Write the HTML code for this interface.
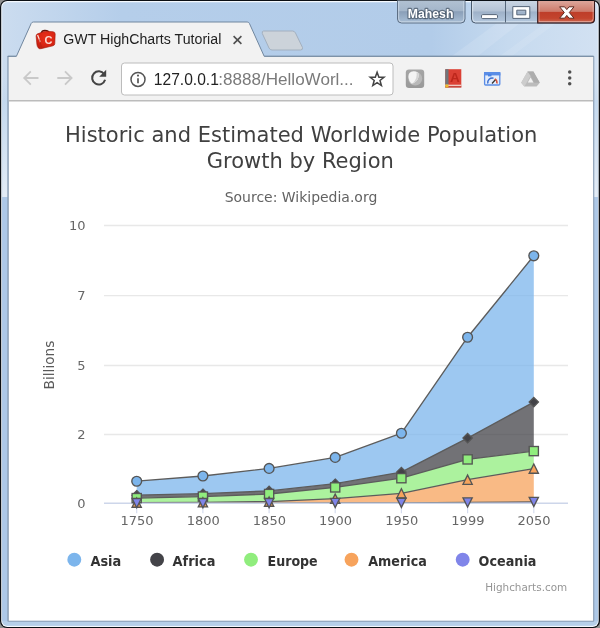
<!DOCTYPE html>
<html><head><meta charset="utf-8"><title>GWT HighCharts Tutorial</title>
<style>
html,body{margin:0;padding:0;width:600px;height:628px;overflow:hidden;background:#b9d1ea;}
svg{display:block}
</style></head><body>
<svg width="600" height="628" viewBox="0 0 600 628">
<defs>
<linearGradient id="frame" x1="0" y1="0" x2="1" y2="0"><stop offset="0" stop-color="#cbdcef"/><stop offset="0.2" stop-color="#b5ceea"/><stop offset="0.72" stop-color="#b2cce9"/><stop offset="0.85" stop-color="#c6daef"/><stop offset="1" stop-color="#d2e1f2"/></linearGradient>
<linearGradient id="side" x1="0" y1="0" x2="0" y2="1"><stop offset="0" stop-color="#b9d1ea" stop-opacity="0"/><stop offset="0.12" stop-color="#b9d1ea" stop-opacity="0"/><stop offset="0.25" stop-color="#b9d1ea" stop-opacity="1"/><stop offset="1" stop-color="#b6cfe9" stop-opacity="1"/></linearGradient>
<linearGradient id="usr" x1="0" y1="0" x2="0" y2="1"><stop offset="0" stop-color="#b1c1d2"/><stop offset="0.45" stop-color="#a4b6ca"/><stop offset="0.5" stop-color="#8a9fb8"/><stop offset="1" stop-color="#a9bfd6"/></linearGradient>
<linearGradient id="btn" x1="0" y1="0" x2="0" y2="1"><stop offset="0" stop-color="#c9d5e3"/><stop offset="0.45" stop-color="#b4c3d5"/><stop offset="0.5" stop-color="#9eb1c8"/><stop offset="1" stop-color="#b5c9df"/></linearGradient>
<linearGradient id="cls" x1="0" y1="0" x2="0" y2="1"><stop offset="0" stop-color="#dca69b"/><stop offset="0.48" stop-color="#cd7b6b"/><stop offset="0.53" stop-color="#be3e29"/><stop offset="0.8" stop-color="#c3442d"/><stop offset="1" stop-color="#cd6a53"/></linearGradient>
<linearGradient id="ext1" x1="0" y1="0" x2="0" y2="1"><stop offset="0" stop-color="#a6a6a6"/><stop offset="1" stop-color="#999"/></linearGradient>
<radialGradient id="favg" cx="0.55" cy="0.35" r="0.75"><stop offset="0" stop-color="#e8301a"/><stop offset="0.6" stop-color="#d92513"/><stop offset="1" stop-color="#b81c0e"/></radialGradient>
<linearGradient id="sidehl" x1="0" y1="0" x2="0" y2="1"><stop offset="0" stop-color="#c3d8ee"/><stop offset="1" stop-color="#e3ecf6"/></linearGradient>
</defs>
<!-- window frame -->
<rect x="0" y="0" width="600" height="628" fill="#909090"/>
<rect x="0" y="0" width="600" height="628" rx="7" fill="#0b0f14"/>
<rect x="1.2" y="1.1" width="597.5" height="625.8" rx="6" fill="#f4f9fe"/>
<rect x="2.2" y="2.2" width="595.6" height="623.6" rx="5" fill="url(#frame)"/>
<rect x="2.2" y="2.2" width="595.6" height="623.6" rx="5" fill="url(#side)"/>
<path d="M452 56 L497 23 H520 L478 56Z" fill="#fff" fill-opacity="0.12"/><path d="M500 56 L545 23 H556 L512 56Z" fill="#fff" fill-opacity="0.1"/>
<rect x="2.2" y="100" width="6" height="97" fill="url(#sidehl)"/><rect x="593" y="100" width="4.8" height="97" fill="url(#sidehl)"/>
<rect x="2.2" y="197" width="6" height="424" fill="#adc8e7"/><rect x="593" y="197" width="4.8" height="424" fill="#adc8e7"/>
<!-- content -->
<rect x="7.3" y="55.8" width="587" height="566" rx="1" fill="#8a9eb5"/>
<rect x="8.8" y="56.8" width="584.3" height="563.9" fill="#fff"/>
<rect x="8.8" y="56.8" width="584.3" height="43.4" fill="#f2f2f2"/>
<path d="M8.8 100.7H593.1" stroke="#bcbcbc" stroke-width="1.5"/>
<!-- new tab button -->
<path d="M263.5 31 H292.5 Q294.5 31 295.5 33 L302.5 47.5 Q303 50 300.5 50 H272 Q270 50 269 48 L262.3 33.5 Q261.8 31 263.5 31Z" fill="#ccd3da" stroke="#a3b0bf" stroke-width="1"/>
<!-- tab -->
<path d="M16.3 56.6 L31.2 23.4 Q31.9 22 33.4 22 H247.2 Q248.7 22 249.4 23.4 L264.3 56.6 V59 H16.3Z" fill="#f2f2f2"/>
<path d="M7.6 56.3 H16.4 L31.2 23.4 Q31.9 22 33.4 22 H247.2 Q248.7 22 249.4 23.4 L264.2 56.3 H593.4" fill="none" stroke="#71879f" stroke-width="1" stroke-linejoin="round"/>
<!-- favicon -->
<g>
<path d="M41.3 33.2 Q41.8 30.3 45 30.4 Q48.6 30.5 48.8 32.6" fill="none" stroke="#5e1209" stroke-width="1.5"/>
<path d="M36.1 36.2 Q36 34.4 37.6 33.8 L44.2 31.6 Q45.4 31.2 46.8 31.3 L53 31.7 Q55.2 31.9 55.2 34 L54.8 43.6 Q54.7 45.3 53 45.8 L41 48.7 Q39.3 49.1 38.3 47.9 Q37.1 46.6 36.9 44.6 Z" fill="url(#favg)" stroke="#a51a0c" stroke-width="0.6"/>
<path d="M37 35.2 L38.2 34.7 L40.6 41.6 L39.9 42.4Z" fill="#fbe3dc"/>
<path d="M39.2 39 L41.6 47.6" stroke="#a81b0e" stroke-width="0.8" stroke-opacity="0.6"/>
<text x="44.4" y="43.6" font-family="Liberation Sans, sans-serif" font-weight="bold" font-size="11" fill="#fbd9d2">C</text>
</g>
<text x="63.3" y="44.3" font-family="Liberation Sans, sans-serif" font-size="15.1" fill="#222" textLength="158" lengthAdjust="spacingAndGlyphs">GWT HighCharts Tutorial</text>
<path d="M233.6 36.1 L241.4 43.9 M241.4 36.1 L233.6 43.9" stroke="#505050" stroke-width="1.6"/>
<!-- user button -->
<path d="M397.5 0.5 V19 Q397.5 23 401.5 23 H461 Q465 23 465 19 V0.5" fill="url(#usr)" stroke="#5d6f84" stroke-width="1"/>
<path d="M398.7 1 V18.8 Q398.7 21.8 401.7 21.8 H460.8 Q463.8 21.8 463.8 18.8 V1" fill="none" stroke="#cfdbe8" stroke-width="1" stroke-opacity="0.8"/>
<text x="430.6" y="18.2" text-anchor="middle" font-family="Liberation Sans, sans-serif" font-weight="bold" font-size="12.6" fill="#fff" stroke="#2c3947" stroke-width="2.4" stroke-opacity="0.55" stroke-linejoin="round" paint-order="stroke" textLength="45.5" lengthAdjust="spacingAndGlyphs">Mahesh</text>
<!-- window buttons -->
<path d="M471.5 1 V19 Q471.5 23 475.5 23 H590.5 Q594.5 23 594.5 19 V1" fill="url(#btn)" stroke="#4a596b" stroke-width="1"/>
<path d="M537.7 1 V22.6 H590.5 Q594.2 22.6 594.2 19 V1Z" fill="url(#cls)"/>
<path d="M472.7 1.6 V18.8 Q472.7 21.8 475.7 21.8 H537" fill="none" stroke="#f1f6fc" stroke-width="1" stroke-opacity="0.6"/>
<path d="M538.9 1.6 V21.6 H590 Q593.2 21.6 593.2 18.6 V1.6" fill="none" stroke="#f6d9d2" stroke-width="1" stroke-opacity="0.55"/>
<path d="M505.5 1V22.5" stroke="#55667a" stroke-width="1"/>
<path d="M537.7 1 V23 H590.5 Q594.5 23 594.5 19 V1" fill="none" stroke="#35171a" stroke-width="1.1"/>
<rect x="481.5" y="14.6" width="16" height="4" rx="1.2" fill="#fff" stroke="#566579" stroke-width="1"/>
<path d="M512.8 6.6 H529.8 V18.4 H512.8Z M516.8 10.2 V14.8 H525.8 V10.2Z" fill="#fff" fill-rule="evenodd" stroke="#566579" stroke-width="1"/>
<path d="M559.6 6.8 H564.6 L566.8 9.6 L569 6.8 H574 L569.3 12.5 L574 18.2 H569 L566.8 15.4 L564.6 18.2 H559.6 L564.3 12.5Z" fill="#fff" stroke="#5f2a20" stroke-width="1" stroke-linejoin="round"/>
<!-- toolbar: back/forward/reload -->
<g fill="none" stroke="#c9c9c9" stroke-width="1.8">
<path d="M38.5 78H24.5 M30.8 71.3 L24.2 78 L30.8 84.7"/>
<path d="M57.3 78H71.3 M65 71.3 L71.6 78 L65 84.7"/>
</g>
<path d="M104.2 74.2 A6.6 6.6 0 1 0 105.1 79.8" fill="none" stroke="#444" stroke-width="2"/>
<path d="M106.2 69.8 V76.8 H99.2Z" fill="#444"/>
<!-- address box -->
<rect x="121.5" y="63" width="271.5" height="32" rx="3" fill="#fff" stroke="#bcbcbc" stroke-width="1"/>
<circle cx="138" cy="79.4" r="7" fill="none" stroke="#555" stroke-width="1.5"/>
<path d="M138 78.3V83.3" stroke="#555" stroke-width="1.7"/><circle cx="138" cy="75.6" r="1.05" fill="#555"/>
<text x="153.8" y="84.9" font-family="Liberation Sans, sans-serif" font-size="17.4" fill="#222" textLength="65" lengthAdjust="spacingAndGlyphs">127.0.0.1</text>
<text x="218.3" y="84.9" font-family="Liberation Sans, sans-serif" font-size="17.4" fill="#7a7a7a" textLength="135.3" lengthAdjust="spacingAndGlyphs">:8888/HelloWorl...</text>
<path d="M377.1 72.3 L378.9 77.2 L384.0 77.3 L380.0 80.5 L381.4 85.5 L377.1 82.6 L372.8 85.5 L374.2 80.5 L370.2 77.3 L375.3 77.2Z" fill="none" stroke="#444" stroke-width="1.5" stroke-linejoin="miter"/>
<!-- ext icons -->
<rect x="405.8" y="69.4" width="18.4" height="18.6" rx="3.2" fill="url(#ext1)"/>
<circle cx="415.2" cy="78.6" r="7" fill="#b9b9b9"/>
<path d="M408.4 77 Q408 72 413.5 71.3 Q418.5 71.4 418.8 75 Q418.6 79.5 414.6 82.6 Q412.6 84.1 411.3 83.4 Q408.8 81 408.4 77Z" fill="#f4f4f4"/>
<path d="M416.5 72.2 Q418.7 73 418.8 75 Q418.6 79.5 414.6 82.6 Q413.4 83.5 412.4 83.7 Q417.8 78.5 416.5 72.2Z" fill="#d4d4d4"/>
<g>
<rect x="445.3" y="69.2" width="16" height="18.2" fill="#db4034"/>
<rect x="445.3" y="69.2" width="3.2" height="18.2" fill="#70757a"/>
<rect x="445.3" y="84.7" width="16" height="1.7" fill="#efc9c3"/>
<rect x="445.3" y="86.3" width="16" height="1.1" fill="#b9352b"/>
<path d="M445.3 84.5 h3.2 v3 h-3.2z" fill="#f0b92c"/>
<text x="454.9" y="82.2" text-anchor="middle" font-family="Liberation Sans, sans-serif" font-weight="bold" font-size="13.5" fill="#bd271c">A</text>
</g>
<g>
<rect x="484.6" y="72.6" width="15.2" height="12.4" rx="1" fill="#e4edfb" stroke="#5a8de6" stroke-width="1.3"/>
<rect x="484" y="72" width="16.4" height="3.4" fill="#5a8de6"/>
<path d="M488 75.2 H491.5" stroke="#4a83e4" stroke-width="2.4"/>
<path d="M487.8 83.5 A4.6 4.6 0 0 1 493.5 78.2" fill="none" stroke="#3b6fd0" stroke-width="1.5"/>
<path d="M494.8 78.8 A4.6 4.6 0 0 1 496.9 83.5" fill="none" stroke="#d0503a" stroke-width="1.5"/>
<path d="M492 83.5 L495.2 80" stroke="#333" stroke-width="1.2"/>
</g>
<g>
<path d="M527.6 71.4 H533.4 L539.8 82.8 L536.6 86.4 H524.4 L521.2 82.8Z" fill="#bcbcbc"/>
<path d="M527.6 71.4 L521.2 82.8 L524.4 86.4 L530.6 75.8Z" fill="#cdcdcd"/>
<path d="M533.4 71.4 L539.8 82.8 H534 L530.6 75.8 L527.6 71.4Z" fill="#adadad"/>
<path d="M530.6 77.6 L533.4 82.6 H527.8Z" fill="#f2f2f2"/>
</g>
<circle cx="569.7" cy="72" r="1.75" fill="#505050"/><circle cx="569.7" cy="77.9" r="1.75" fill="#505050"/><circle cx="569.7" cy="83.8" r="1.75" fill="#505050"/>

<g id="chart">
<path d="M104.0 434.50H568.0" stroke="#e8e8e8" stroke-width="1.3"/>
<path d="M104.0 365.50H568.0" stroke="#e8e8e8" stroke-width="1.3"/>
<path d="M104.0 295.60H568.0" stroke="#e8e8e8" stroke-width="1.3"/>
<path d="M104.0 225.50H568.0" stroke="#e8e8e8" stroke-width="1.3"/>
<path d="M136.7 481.2 L202.9 476.0 L269.1 468.4 L335.2 457.4 L401.4 433.2 L467.6 337.2 L533.8 255.8 L533.8 402.1 L467.6 438.1 L401.4 472.1 L335.2 483.7 L269.1 490.9 L202.9 493.7 L136.7 495.2 Z" fill="#7cb5ec" fill-opacity="0.75"/>
<path d="M136.7 481.2 L202.9 476.0 L269.1 468.4 L335.2 457.4 L401.4 433.2 L467.6 337.2 L533.8 255.8" fill="none" stroke="#5c5c5c" stroke-width="1.35" stroke-linejoin="round"/>
<path d="M136.7 495.2 L202.9 493.7 L269.1 490.9 L335.2 483.7 L401.4 472.1 L467.6 438.1 L533.8 402.1 L533.8 451.1 L467.6 459.4 L401.4 478.2 L335.2 487.4 L269.1 494.0 L202.9 496.6 L136.7 498.1 Z" fill="#434348" fill-opacity="0.75"/>
<path d="M136.7 495.2 L202.9 493.7 L269.1 490.9 L335.2 483.7 L401.4 472.1 L467.6 438.1 L533.8 402.1" fill="none" stroke="#5c5c5c" stroke-width="1.35" stroke-linejoin="round"/>
<path d="M136.7 498.1 L202.9 496.6 L269.1 494.0 L335.2 487.4 L401.4 478.2 L467.6 459.4 L533.8 451.1 L533.8 468.6 L467.6 479.7 L401.4 493.4 L335.2 498.7 L269.1 501.6 L202.9 502.3 L136.7 502.6 Z" fill="#90ed7d" fill-opacity="0.75"/>
<path d="M136.7 498.1 L202.9 496.6 L269.1 494.0 L335.2 487.4 L401.4 478.2 L467.6 459.4 L533.8 451.1" fill="none" stroke="#5c5c5c" stroke-width="1.35" stroke-linejoin="round"/>
<path d="M136.7 502.6 L202.9 502.3 L269.1 501.6 L335.2 498.7 L401.4 493.4 L467.6 479.7 L533.8 468.6 L533.8 501.9 L467.6 502.4 L401.4 502.8 L335.2 503.0 L269.1 503.1 L202.9 503.1 L136.7 503.1 Z" fill="#f7a35c" fill-opacity="0.75"/>
<path d="M136.7 502.6 L202.9 502.3 L269.1 501.6 L335.2 498.7 L401.4 493.4 L467.6 479.7 L533.8 468.6" fill="none" stroke="#5c5c5c" stroke-width="1.35" stroke-linejoin="round"/>
<path d="M136.7 503.1 L202.9 503.1 L269.1 503.1 L335.2 503.0 L401.4 502.8 L467.6 502.4 L533.8 501.9 L533.8 503.2 L467.6 503.2 L401.4 503.2 L335.2 503.2 L269.1 503.2 L202.9 503.2 L136.7 503.2 Z" fill="#8085e9" fill-opacity="0.75"/>
<path d="M136.7 503.1 L202.9 503.1 L269.1 503.1 L335.2 503.0 L401.4 502.8 L467.6 502.4 L533.8 501.9" fill="none" stroke="#5c5c5c" stroke-width="1.35" stroke-linejoin="round"/>
<path d="M104.0 503.2H568.0" stroke="#cdd6ea" stroke-width="1.5"/>
<path d="M136.7 503.2V513.2" stroke="#d5dcee" stroke-width="1.2"/>
<path d="M202.9 503.2V513.2" stroke="#d5dcee" stroke-width="1.2"/>
<path d="M269.1 503.2V513.2" stroke="#d5dcee" stroke-width="1.2"/>
<path d="M335.2 503.2V513.2" stroke="#d5dcee" stroke-width="1.2"/>
<path d="M401.4 503.2V513.2" stroke="#d5dcee" stroke-width="1.2"/>
<path d="M467.6 503.2V513.2" stroke="#d5dcee" stroke-width="1.2"/>
<path d="M533.8 503.2V513.2" stroke="#d5dcee" stroke-width="1.2"/>
<circle cx="136.7" cy="481.2" r="4.9" fill="#7cb5ec" stroke="#555" stroke-width="1.35"/>
<circle cx="202.9" cy="476.0" r="4.9" fill="#7cb5ec" stroke="#555" stroke-width="1.35"/>
<circle cx="269.1" cy="468.4" r="4.9" fill="#7cb5ec" stroke="#555" stroke-width="1.35"/>
<circle cx="335.2" cy="457.4" r="4.9" fill="#7cb5ec" stroke="#555" stroke-width="1.35"/>
<circle cx="401.4" cy="433.2" r="4.9" fill="#7cb5ec" stroke="#555" stroke-width="1.35"/>
<circle cx="467.6" cy="337.2" r="4.9" fill="#7cb5ec" stroke="#555" stroke-width="1.35"/>
<circle cx="533.8" cy="255.8" r="4.9" fill="#7cb5ec" stroke="#555" stroke-width="1.35"/>
<path d="M136.7 490.6L141.3 495.2L136.7 499.8L132.1 495.2Z" fill="#434348" stroke="#555" stroke-width="1.35"/>
<path d="M202.9 489.1L207.5 493.7L202.9 498.3L198.3 493.7Z" fill="#434348" stroke="#555" stroke-width="1.35"/>
<path d="M269.1 486.3L273.7 490.9L269.1 495.5L264.5 490.9Z" fill="#434348" stroke="#555" stroke-width="1.35"/>
<path d="M335.2 479.1L339.8 483.7L335.2 488.3L330.6 483.7Z" fill="#434348" stroke="#555" stroke-width="1.35"/>
<path d="M401.4 467.5L406.0 472.1L401.4 476.7L396.8 472.1Z" fill="#434348" stroke="#555" stroke-width="1.35"/>
<path d="M467.6 433.5L472.2 438.1L467.6 442.7L463.0 438.1Z" fill="#434348" stroke="#555" stroke-width="1.35"/>
<path d="M533.8 397.5L538.4 402.1L533.8 406.7L529.2 402.1Z" fill="#434348" stroke="#555" stroke-width="1.35"/>
<rect x="132.1" y="493.5" width="9.2" height="9.2" fill="#90ed7d" stroke="#555" stroke-width="1.35"/>
<rect x="198.3" y="492.0" width="9.2" height="9.2" fill="#90ed7d" stroke="#555" stroke-width="1.35"/>
<rect x="264.5" y="489.4" width="9.2" height="9.2" fill="#90ed7d" stroke="#555" stroke-width="1.35"/>
<rect x="330.6" y="482.8" width="9.2" height="9.2" fill="#90ed7d" stroke="#555" stroke-width="1.35"/>
<rect x="396.8" y="473.6" width="9.2" height="9.2" fill="#90ed7d" stroke="#555" stroke-width="1.35"/>
<rect x="463.0" y="454.8" width="9.2" height="9.2" fill="#90ed7d" stroke="#555" stroke-width="1.35"/>
<rect x="529.2" y="446.5" width="9.2" height="9.2" fill="#90ed7d" stroke="#555" stroke-width="1.35"/>
<path d="M136.7 498.0L141.3 507.2L132.1 507.2Z" fill="#f7a35c" stroke="#555" stroke-width="1.35"/>
<path d="M202.9 497.7L207.5 506.9L198.3 506.9Z" fill="#f7a35c" stroke="#555" stroke-width="1.35"/>
<path d="M269.1 497.0L273.7 506.2L264.5 506.2Z" fill="#f7a35c" stroke="#555" stroke-width="1.35"/>
<path d="M335.2 494.1L339.8 503.3L330.6 503.3Z" fill="#f7a35c" stroke="#555" stroke-width="1.35"/>
<path d="M401.4 488.8L406.0 498.0L396.8 498.0Z" fill="#f7a35c" stroke="#555" stroke-width="1.35"/>
<path d="M467.6 475.1L472.2 484.3L463.0 484.3Z" fill="#f7a35c" stroke="#555" stroke-width="1.35"/>
<path d="M533.8 464.0L538.4 473.2L529.2 473.2Z" fill="#f7a35c" stroke="#555" stroke-width="1.35"/>
<path d="M132.1 498.5L141.3 498.5L136.7 507.7Z" fill="#8085e9" stroke="#555" stroke-width="1.35"/>
<path d="M198.3 498.5L207.5 498.5L202.9 507.7Z" fill="#8085e9" stroke="#555" stroke-width="1.35"/>
<path d="M264.5 498.5L273.7 498.5L269.1 507.7Z" fill="#8085e9" stroke="#555" stroke-width="1.35"/>
<path d="M330.6 498.4L339.8 498.4L335.2 507.6Z" fill="#8085e9" stroke="#555" stroke-width="1.35"/>
<path d="M396.8 498.2L406.0 498.2L401.4 507.4Z" fill="#8085e9" stroke="#555" stroke-width="1.35"/>
<path d="M463.0 497.8L472.2 497.8L467.6 507.0Z" fill="#8085e9" stroke="#555" stroke-width="1.35"/>
<path d="M529.2 497.3L538.4 497.3L533.8 506.5Z" fill="#8085e9" stroke="#555" stroke-width="1.35"/>
<text x="137.0" y="525.4" text-anchor="middle" font-size="13" fill="#666" font-family="DejaVu Sans, Liberation Sans, sans-serif">1750</text>
<text x="203.2" y="525.4" text-anchor="middle" font-size="13" fill="#666" font-family="DejaVu Sans, Liberation Sans, sans-serif">1800</text>
<text x="269.4" y="525.4" text-anchor="middle" font-size="13" fill="#666" font-family="DejaVu Sans, Liberation Sans, sans-serif">1850</text>
<text x="335.5" y="525.4" text-anchor="middle" font-size="13" fill="#666" font-family="DejaVu Sans, Liberation Sans, sans-serif">1900</text>
<text x="401.7" y="525.4" text-anchor="middle" font-size="13" fill="#666" font-family="DejaVu Sans, Liberation Sans, sans-serif">1950</text>
<text x="467.9" y="525.4" text-anchor="middle" font-size="13" fill="#666" font-family="DejaVu Sans, Liberation Sans, sans-serif">1999</text>
<text x="534.1" y="525.4" text-anchor="middle" font-size="13" fill="#666" font-family="DejaVu Sans, Liberation Sans, sans-serif">2050</text>
<text x="85.6" y="507.7" text-anchor="end" font-size="13" fill="#666" font-family="DejaVu Sans, Liberation Sans, sans-serif">0</text>
<text x="85.6" y="439.1" text-anchor="end" font-size="13" fill="#666" font-family="DejaVu Sans, Liberation Sans, sans-serif">2</text>
<text x="85.6" y="370.1" text-anchor="end" font-size="13" fill="#666" font-family="DejaVu Sans, Liberation Sans, sans-serif">5</text>
<text x="85.6" y="300.2" text-anchor="end" font-size="13" fill="#666" font-family="DejaVu Sans, Liberation Sans, sans-serif">7</text>
<text x="85.6" y="230.1" text-anchor="end" font-size="13" fill="#666" font-family="DejaVu Sans, Liberation Sans, sans-serif">10</text>
<text x="54.1" y="365" text-anchor="middle" font-size="13.7" fill="#5a5a5a" transform="rotate(-90 54.1 365)" font-family="DejaVu Sans, Liberation Sans, sans-serif">Billions</text>
<text x="301.2" y="142.3" text-anchor="middle" font-size="21" fill="#404040" textLength="472.4" lengthAdjust="spacingAndGlyphs" font-family="DejaVu Sans, Liberation Sans, sans-serif">Historic and Estimated Worldwide Population</text>
<text x="300.3" y="167.6" text-anchor="middle" font-size="21" fill="#404040" textLength="187" lengthAdjust="spacingAndGlyphs" font-family="DejaVu Sans, Liberation Sans, sans-serif">Growth by Region</text>
<text x="301" y="201.8" text-anchor="middle" font-size="14.6" fill="#626262" textLength="152.6" lengthAdjust="spacingAndGlyphs" font-family="DejaVu Sans, Liberation Sans, sans-serif">Source: Wikipedia.org</text>
<circle cx="74.3" cy="559.7" r="6.95" fill="#7cb5ec"/>
<text x="90.4" y="565.8" font-size="14" font-weight="bold" fill="#333" textLength="30.9" lengthAdjust="spacingAndGlyphs" font-family="DejaVu Sans, Liberation Sans, sans-serif">Asia</text>
<circle cx="157.1" cy="559.7" r="6.95" fill="#434348"/>
<text x="172.6" y="565.8" font-size="14" font-weight="bold" fill="#333" textLength="42.8" lengthAdjust="spacingAndGlyphs" font-family="DejaVu Sans, Liberation Sans, sans-serif">Africa</text>
<circle cx="251.0" cy="559.7" r="6.95" fill="#90ed7d"/>
<text x="267.5" y="565.8" font-size="14" font-weight="bold" fill="#333" textLength="50.2" lengthAdjust="spacingAndGlyphs" font-family="DejaVu Sans, Liberation Sans, sans-serif">Europe</text>
<circle cx="351.5" cy="559.7" r="6.95" fill="#f7a35c"/>
<text x="368.2" y="565.8" font-size="14" font-weight="bold" fill="#333" textLength="58.6" lengthAdjust="spacingAndGlyphs" font-family="DejaVu Sans, Liberation Sans, sans-serif">America</text>
<circle cx="462.7" cy="559.7" r="6.95" fill="#8085e9"/>
<text x="478.6" y="565.8" font-size="14" font-weight="bold" fill="#333" textLength="57.8" lengthAdjust="spacingAndGlyphs" font-family="DejaVu Sans, Liberation Sans, sans-serif">Oceania</text>
<text x="567.2" y="591.3" text-anchor="end" font-size="11.3" fill="#959595" textLength="82" lengthAdjust="spacingAndGlyphs" font-family="DejaVu Sans, Liberation Sans, sans-serif">Highcharts.com</text>
</g>
</svg>
</body></html>
